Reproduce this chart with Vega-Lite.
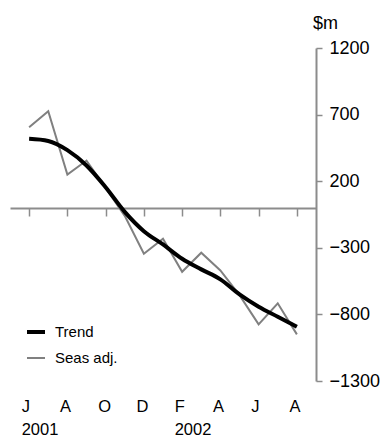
{
  "$schema": "https://vega.github.io/schema/vega-lite/v6.json",
  "autosize": "none",
  "width": 306,
  "height": 333,
  "padding": {"left": 10, "top": 48, "right": 68, "bottom": 57},
  "background": "white",
  "config": {"view": {"stroke": null}, "font": "Liberation Sans"},
  "data": {"values": [
    {"month": "Jun-01", "series": "Seas adj.", "value": 605},
    {"month": "Jul-01", "series": "Seas adj.", "value": 725},
    {"month": "Aug-01", "series": "Seas adj.", "value": 250},
    {"month": "Sep-01", "series": "Seas adj.", "value": 355},
    {"month": "Oct-01", "series": "Seas adj.", "value": 150},
    {"month": "Nov-01", "series": "Seas adj.", "value": -60},
    {"month": "Dec-01", "series": "Seas adj.", "value": -345},
    {"month": "Jan-02", "series": "Seas adj.", "value": -232},
    {"month": "Feb-02", "series": "Seas adj.", "value": -480},
    {"month": "Mar-02", "series": "Seas adj.", "value": -337},
    {"month": "Apr-02", "series": "Seas adj.", "value": -470},
    {"month": "May-02", "series": "Seas adj.", "value": -655},
    {"month": "Jun-02", "series": "Seas adj.", "value": -875},
    {"month": "Jul-02", "series": "Seas adj.", "value": -717},
    {"month": "Aug-02", "series": "Seas adj.", "value": -950},
    {"month": "Jun-01", "series": "Trend", "value": 518},
    {"month": "Jul-01", "series": "Trend", "value": 502},
    {"month": "Aug-01", "series": "Trend", "value": 433},
    {"month": "Sep-01", "series": "Trend", "value": 318},
    {"month": "Oct-01", "series": "Trend", "value": 155},
    {"month": "Nov-01", "series": "Trend", "value": -30},
    {"month": "Dec-01", "series": "Trend", "value": -175},
    {"month": "Jan-02", "series": "Trend", "value": -275},
    {"month": "Feb-02", "series": "Trend", "value": -382},
    {"month": "Mar-02", "series": "Trend", "value": -462},
    {"month": "Apr-02", "series": "Trend", "value": -537},
    {"month": "May-02", "series": "Trend", "value": -650},
    {"month": "Jun-02", "series": "Trend", "value": -742},
    {"month": "Jul-02", "series": "Trend", "value": -817},
    {"month": "Aug-02", "series": "Trend", "value": -892}
  ]},
  "encoding": {
    "x": {
      "field": "month", "type": "ordinal", "sort": null,
      "scale": {"type": "point", "padding": 1.05},
      "axis": {
        "orient": "bottom", "offset": -173, "title": null,
        "values": ["Jun-01", "Aug-01", "Oct-01", "Dec-01", "Feb-02", "Apr-02", "Jun-02", "Aug-02"],
        "domainColor": "#8c8c8c", "domainWidth": 2,
        "tickColor": "#8c8c8c", "tickWidth": 1.5, "tickSize": 8,
        "labelAngle": 0, "labelAlign": "left", "labelOffset": -8, "labelBaseline": "top",
        "labelPadding": 182, "labelFontSize": 16.5, "labelColor": "black", "labelLineHeight": 23,
        "labelExpr": "[substring(datum.value, 0, 1), datum.value == 'Jun-01' ? '2001' : datum.value == 'Feb-02' ? '2002' : '']"
      }
    },
    "y": {
      "field": "value", "type": "quantitative",
      "scale": {"domain": [-1300, 1200], "nice": false, "zero": false},
      "axis": {
        "orient": "right", "values": [-1300, -800, -300, 200, 700, 1200], "grid": false, "format": "d",
        "domainColor": "#8c8c8c", "domainWidth": 2,
        "tickColor": "#8c8c8c", "tickWidth": 1.5, "tickSize": 6,
        "labelFontSize": 18, "labelColor": "black", "labelPadding": 7,
        "title": "$m", "titleAngle": 0, "titleFontSize": 18, "titleFontWeight": "normal",
        "titleColor": "black", "titleX": 9, "titleY": -20, "titleAlign": "center", "titleBaseline": "alphabetic"
      }
    },
    "color": {
      "field": "series", "type": "nominal",
      "scale": {"domain": ["Trend", "Seas adj."], "range": ["black", "#808080"]},
      "legend": {
        "title": null, "orient": "none", "legendX": 15, "legendY": 273, "padding": 0,
        "symbolType": "stroke", "symbolSize": 324, "labelFontSize": 15, "labelColor": "black",
        "labelOffset": 8, "rowPadding": 8
      }
    },
    "strokeWidth": {
      "field": "series", "type": "nominal",
      "scale": {"domain": ["Trend", "Seas adj."], "range": [4, 2]},
      "legend": {
        "title": null, "orient": "none", "legendX": 15, "legendY": 273, "padding": 0,
        "symbolType": "stroke", "symbolSize": 324, "labelFontSize": 15, "labelColor": "black",
        "labelOffset": 8, "rowPadding": 8
      }
    }
  },
  "layer": [
    {
      "transform": [{"filter": "datum.series == 'Seas adj.'"}],
      "mark": {"type": "line", "interpolate": "linear", "strokeCap": "butt", "strokeJoin": "miter"}
    },
    {
      "transform": [{"filter": "datum.series == 'Trend'"}],
      "mark": {"type": "line", "interpolate": "monotone", "strokeCap": "butt", "strokeJoin": "round"}
    }
  ]
}
